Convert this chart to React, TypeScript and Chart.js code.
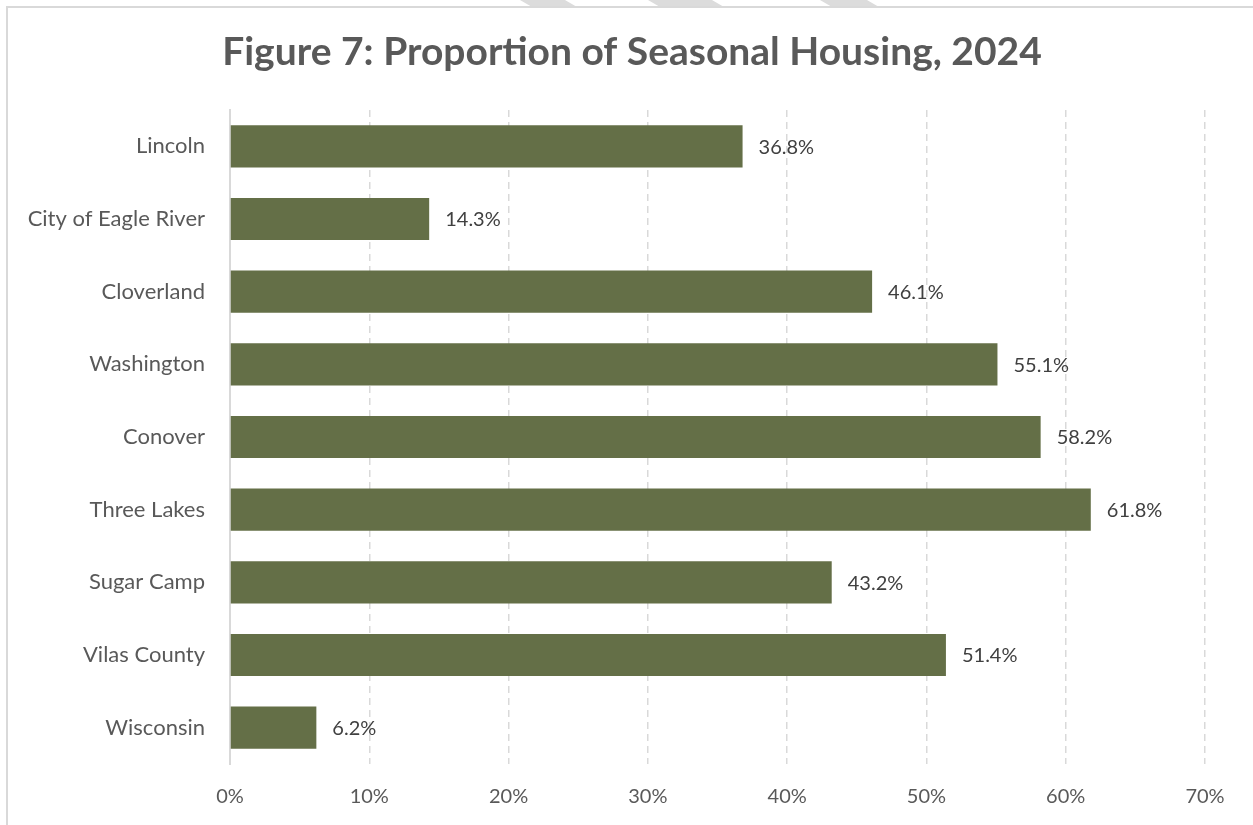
import React, { useEffect, useRef } from "react";
import { Chart, registerables } from "chart.js";

Chart.register(...registerables);

const categories = [
  "Lincoln",
  "City of Eagle River",
  "Cloverland",
  "Washington",
  "Conover",
  "Three Lakes",
  "Sugar Camp",
  "Vilas County",
  "Wisconsin",
];
const seasonalShare = [36.8, 14.3, 46.1, 55.1, 58.2, 61.8, 43.2, 51.4, 6.2];
const xTicks = [0, 10, 20, 30, 40, 50, 60, 70];
const titleText = "Figure 7: Proportion of Seasonal Housing, 2024";

const FONT = "Lato, 'Open Sans', sans-serif";

const titlePlugin = {
  id: "customTitle",
  afterDraw(chart: any) {
    const ctx = chart.ctx;
    ctx.save();
    ctx.font = `bold 39px ${FONT}`;
    ctx.fillStyle = "#595959";
    ctx.textAlign = "center";
    ctx.textBaseline = "middle";
    ctx.fillText(titleText, 632, 52);
    ctx.restore();
  },
};

const valueLabelPlugin = {
  id: "valueLabels",
  afterDatasetsDraw(chart: any) {
    const ctx = chart.ctx;
    const meta = chart.getDatasetMeta(0);
    ctx.save();
    ctx.font = `20px ${FONT}`;
    ctx.fillStyle = "#404040";
    ctx.textAlign = "left";
    ctx.textBaseline = "middle";
    meta.data.forEach((bar: any, i: number) => {
      const v = seasonalShare[i];
      ctx.fillText(v.toFixed(1) + "%", bar.x + 16, bar.y + 1);
    });
    ctx.restore();
  },
};

export default function App() {
  const canvasRef = useRef<HTMLCanvasElement | null>(null);

  useEffect(() => {
    if (!canvasRef.current) return;
    const chart = new Chart(canvasRef.current, {
      type: "bar",
      data: {
        labels: categories,
        datasets: [
          {
            data: seasonalShare,
            backgroundColor: "#646f47",
            borderWidth: 0,
            categoryPercentage: 0.58,
            barPercentage: 1,
          },
        ],
      },
      options: {
        indexAxis: "y",
        animation: false,
        responsive: false,
        maintainAspectRatio: false,
        layout: { padding: { left: 0, right: 48, top: 110, bottom: 0 } },
        plugins: {
          legend: { display: false },
          tooltip: { enabled: false },
          title: { display: false },
        },
        scales: {
          x: {
            type: "linear",
            min: 0,
            max: 70,
            afterBuildTicks(scale: any) {
              scale.ticks = xTicks.map((v) => ({ value: v }));
            },
            afterFit(scale: any) {
              scale.height = 61;
            },
            ticks: {
              padding: 21,
              color: "#595959",
              font: { family: FONT, size: 20 },
              callback: (v: any) => v + "%",
              maxRotation: 0,
            },
            grid: {
              color: (c: any) => (c.tick && c.tick.value === 0 ? "rgba(0,0,0,0)" : "#d9d9d9"),
              lineWidth: 1.5,
              drawTicks: false,
            },
            border: { display: false, dash: [7, 5] },
          },
          y: {
            type: "category",
            afterFit(scale: any) {
              scale.width = 230;
            },
            ticks: {
              padding: 25,
              color: "#595959",
              font: { family: FONT, size: 22 },
            },
            grid: { display: false, drawTicks: false },
            border: { display: true, color: "#d9d9d9", width: 2 },
          },
        },
      },
      plugins: [titlePlugin, valueLabelPlugin],
    } as any);
    return () => chart.destroy();
  }, []);

  const shapes = [
    { l: 520, w: 45 },
    { l: 648, w: 64 },
    { l: 820, w: 47 },
  ];

  return (
    <div
      style={{
        position: "fixed",
        left: 0,
        top: 0,
        width: 1253,
        height: 825,
        overflow: "hidden",
        background: "#ffffff",
      }}
    >
      {shapes.map((s, i) => (
        <div
          key={i}
          style={{
            position: "absolute",
            left: s.l,
            top: 0,
            width: s.w + 12,
            height: 7,
            background: "#dcdcdc",
            clipPath: `polygon(0 0, ${s.w}px 0, 100% 100%, 12px 100%)`,
          }}
        />
      ))}
      <div
        style={{
          position: "absolute",
          left: 6,
          top: 6,
          width: 1400,
          height: 1000,
          border: "2px solid #d9d9d9",
          boxSizing: "border-box",
        }}
      />
      <canvas
        ref={canvasRef}
        width={1253}
        height={825}
        style={{ position: "absolute", left: 0, top: 0, width: 1253, height: 825 }}
      />
    </div>
  );
}
